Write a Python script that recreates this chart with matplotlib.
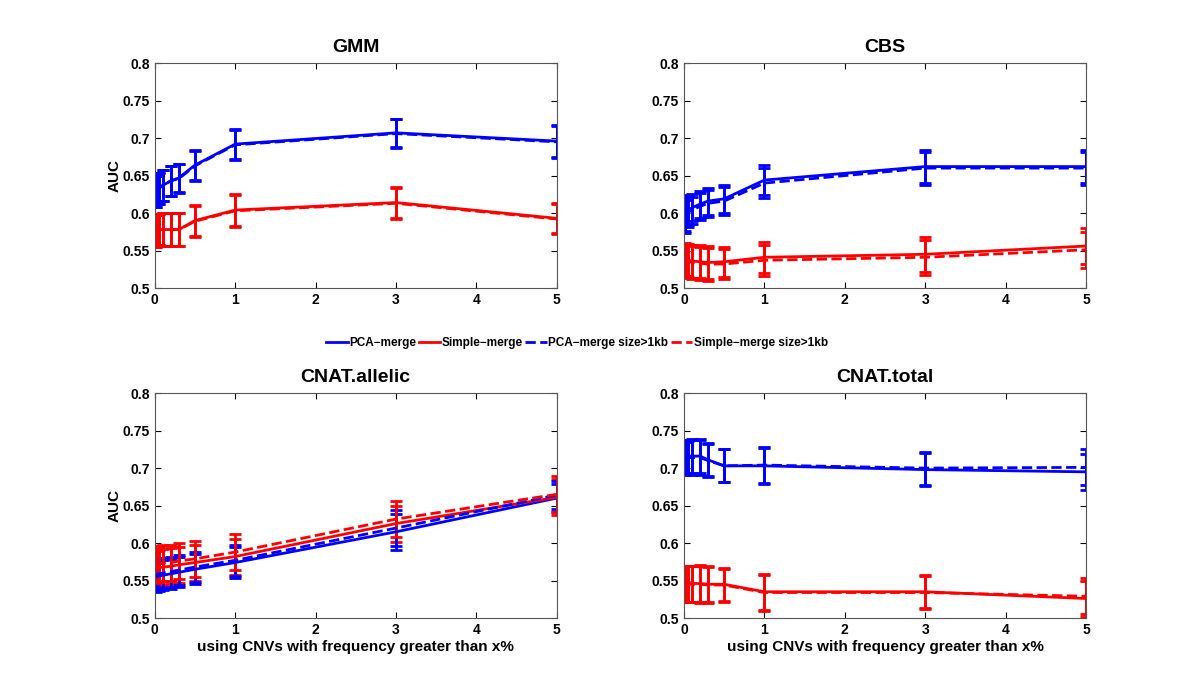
import matplotlib.pyplot as plt

plt.rcParams['font.family'] = ['Liberation Sans', 'DejaVu Sans']
plt.rcParams['font.weight'] = 'bold'

x = [0.01, 0.05, 0.1, 0.2, 0.3, 0.5, 1, 3, 5]

# GMM
gmm_pca = [0.629, 0.633, 0.637, 0.643, 0.647, 0.664, 0.692, 0.707, 0.696]
gmm_pca_1kb = [0.629, 0.633, 0.637, 0.643, 0.646, 0.663, 0.691, 0.706, 0.695]
gmm_simple = [0.576, 0.578, 0.578, 0.578, 0.578, 0.590, 0.604, 0.614, 0.593]
gmm_simple_1kb = [0.576, 0.578, 0.578, 0.578, 0.578, 0.589, 0.603, 0.613, 0.592]
gmm_pca_err = [0.021, 0.021, 0.021, 0.020, 0.019, 0.020, 0.020, 0.019, 0.021]
gmm_simple_err = [0.021, 0.021, 0.022, 0.022, 0.022, 0.021, 0.021, 0.021, 0.020]

# CBS
cbs_pca = [0.598, 0.604, 0.607, 0.612, 0.616, 0.619, 0.644, 0.662, 0.662]
cbs_pca_1kb = [0.595, 0.601, 0.604, 0.609, 0.613, 0.616, 0.640, 0.660, 0.660]
cbs_simple = [0.538, 0.537, 0.536, 0.535, 0.534, 0.535, 0.541, 0.545, 0.556]
cbs_simple_1kb = [0.537, 0.536, 0.534, 0.533, 0.532, 0.532, 0.537, 0.541, 0.551]
cbs_pca_err = [0.022, 0.020, 0.018, 0.018, 0.018, 0.019, 0.020, 0.022, 0.022]
cbs_simple_err = [0.022, 0.022, 0.022, 0.022, 0.022, 0.020, 0.021, 0.023, 0.024]

# CNAT.allelic
all_pca = [0.555, 0.556, 0.557, 0.559, 0.561, 0.565, 0.574, 0.615, 0.660]
all_pca_1kb = [0.558, 0.559, 0.560, 0.562, 0.564, 0.568, 0.577, 0.620, 0.664]
all_simple = [0.566, 0.567, 0.568, 0.569, 0.571, 0.574, 0.582, 0.626, 0.661]
all_simple_1kb = [0.571, 0.572, 0.573, 0.574, 0.576, 0.579, 0.588, 0.632, 0.665]
all_pca_err = [0.020, 0.020, 0.020, 0.020, 0.020, 0.020, 0.021, 0.024, 0.019]
all_simple_err = [0.024, 0.024, 0.024, 0.024, 0.024, 0.024, 0.024, 0.024, 0.024]

# CNAT.total
tot_pca = [0.716, 0.716, 0.716, 0.716, 0.711, 0.703, 0.703, 0.698, 0.695]
tot_pca_1kb = [0.713, 0.714, 0.714, 0.714, 0.710, 0.703, 0.704, 0.700, 0.701]
tot_simple = [0.546, 0.546, 0.546, 0.546, 0.545, 0.545, 0.535, 0.535, 0.526]
tot_simple_1kb = [0.545, 0.545, 0.545, 0.545, 0.544, 0.544, 0.534, 0.534, 0.529]
tot_pca_err = [0.022, 0.022, 0.023, 0.023, 0.022, 0.022, 0.024, 0.022, 0.024]
tot_simple_err = [0.024, 0.024, 0.024, 0.025, 0.024, 0.022, 0.024, 0.022, 0.024]

panels = [
    ('GMM', gmm_pca, gmm_simple, gmm_pca_1kb, gmm_simple_1kb, gmm_pca_err, gmm_simple_err),
    ('CBS', cbs_pca, cbs_simple, cbs_pca_1kb, cbs_simple_1kb, cbs_pca_err, cbs_simple_err),
    ('CNAT.allelic', all_pca, all_simple, all_pca_1kb, all_simple_1kb, all_pca_err, all_simple_err),
    ('CNAT.total', tot_pca, tot_simple, tot_pca_1kb, tot_simple_1kb, tot_pca_err, tot_simple_err),
]

labels = ['PCA\u2212merge', 'Simple\u2212merge', 'PCA\u2212merge size>1kb', 'Simple\u2212merge size>1kb']

fig = plt.figure(figsize=(12, 6.94), dpi=100)
pos = [[0.129, 0.585, 0.335, 0.324], [0.570, 0.585, 0.335, 0.324],
       [0.129, 0.1095, 0.335, 0.324], [0.570, 0.1095, 0.335, 0.324]]

handles = []
for i, (title, pca, simple, pca1, simple1, epca, esimple) in enumerate(panels):
    ax = fig.add_axes(pos[i])
    h1 = ax.errorbar(x, pca, yerr=epca, color='#0000ff', lw=2, capsize=4, capthick=2, elinewidth=2)
    h2 = ax.errorbar(x, simple, yerr=esimple, color='#ff0000', lw=2, capsize=4, capthick=2, elinewidth=2)
    h3 = ax.errorbar(x, pca1, yerr=epca, color='#0000ff', lw=2, ls='--', capsize=4, capthick=2, elinewidth=2)
    h4 = ax.errorbar(x, simple1, yerr=esimple, color='#ff0000', lw=2, ls='--', capsize=4, capthick=2, elinewidth=2)
    handles = [h1[0], h2[0], h3[0], h4[0]]
    ax.set_xlim(0, 5)
    ax.set_ylim(0.5, 0.8)
    ax.set_yticks([0.5, 0.55, 0.6, 0.65, 0.7, 0.75, 0.8])
    ax.set_yticklabels(['0.5', '0.55', '0.6', '0.65', '0.7', '0.75', '0.8'])
    ax.set_xticks([0, 1, 2, 3, 4, 5])
    ax.tick_params(direction='in', top=True, right=True, labelsize=10, length=4)
    for lab in ax.get_xticklabels() + ax.get_yticklabels():
        lab.set_fontweight('bold')
    for sp in ax.spines.values():
        sp.set_color('#555555')
    ax.set_title(title, fontsize=14, fontweight='bold', pad=8)
    if i % 2 == 0:
        ax.set_ylabel('AUC', fontsize=11, fontweight='bold', labelpad=1)
    if i >= 2:
        ax.set_xlabel('using CNVs with frequency greater than x%', fontsize=11, fontweight='bold', labelpad=2)

fig.legend(handles, labels, loc='center', bbox_to_anchor=(0.481, 0.506), ncol=4, frameon=False,
           handlelength=1.8, columnspacing=0.2, handletextpad=0.15,
           prop={'weight': 'bold', 'size': 8.5})

fig.savefig('out.png', dpi=100)
